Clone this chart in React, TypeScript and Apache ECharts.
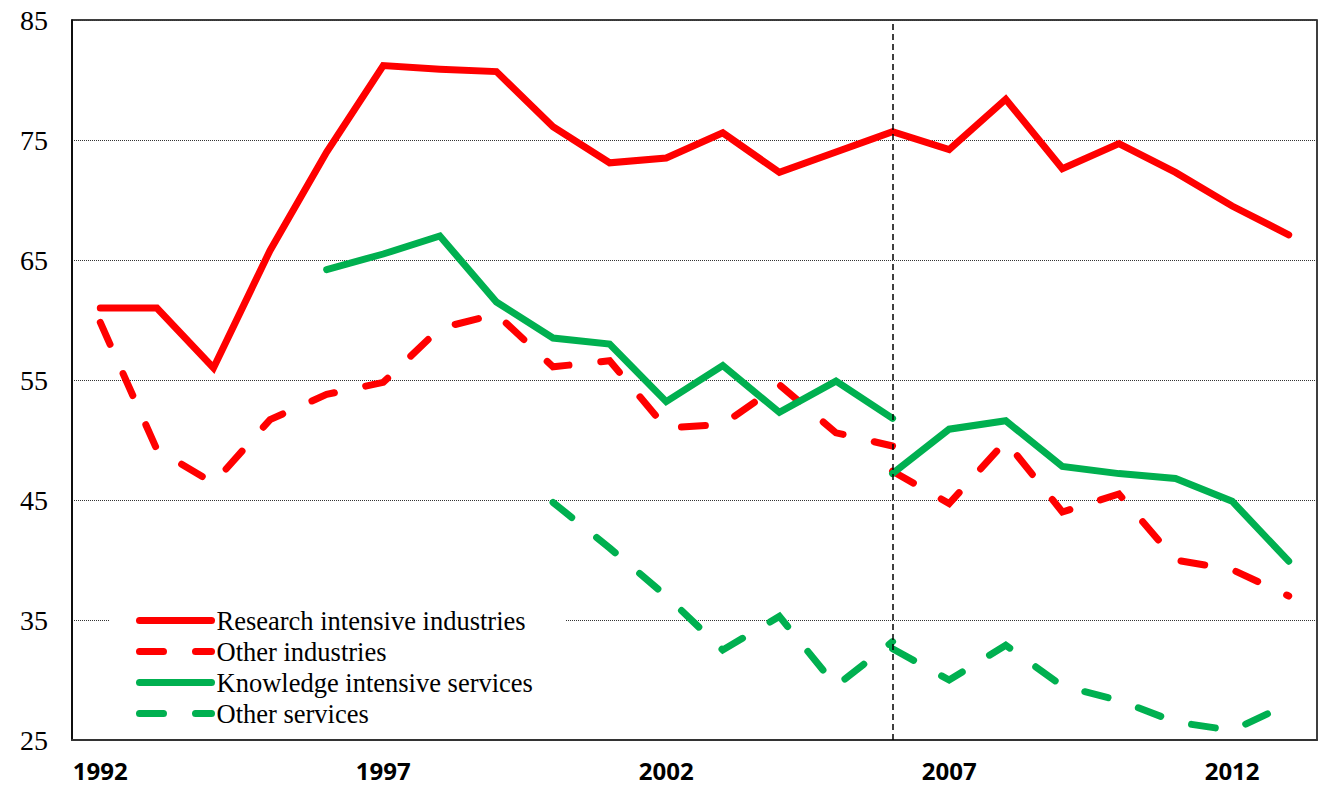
import React, { useEffect, useRef } from "react";
import * as echarts from "echarts";

const years = ["1992","1993","1994","1995","1996","1997","1998","1999","2000","2001","2002","2003","2004","2005","2006","2007","2008","2009","2010","2011","2012","2013"];
const yTicks = [25, 35, 45, 55, 65, 75, 85];

// Research intensive industries
const researchIntensive = [61.0, 61.0, 56.0, 65.8, 74.0, 81.2, 80.9, 80.7, 76.1, 73.1, 73.5, 75.6, 72.3, 74.0, 75.7, 74.2, 78.4, 72.6, 74.7, 72.3, 69.5, 67.1];
// Other industries (break at 2006)
const otherIndustriesA = [59.8, 49.2, 46.4, 51.7, 53.8, 54.8, 59.3, 60.5, 56.1, 56.6, 51.0, 51.3, 54.6, 50.6, 49.5, null, null, null, null, null, null, null];
const otherIndustriesB = [null, null, null, null, null, null, null, null, null, null, null, null, null, null, 47.4, 44.7, 49.9, 44.0, 45.5, 40.0, 39.2, 37.0];
// Knowledge intensive services (break at 2006)
const knowledgeA = [null, null, null, null, 64.2, 65.5, 67.0, 61.5, 58.5, 58.0, 53.2, 56.2, 52.3, 54.9, 51.8, null, null, null, null, null, null, null];
const knowledgeB = [null, null, null, null, null, null, null, null, null, null, null, null, null, null, 47.2, 50.9, 51.6, 47.8, 47.2, 46.8, 44.9, 39.9];
// Other services (break at 2006)
const otherServicesA = [null, null, null, null, null, null, null, null, 44.8, 41.0, 37.0, 32.5, 35.3, 29.5, 33.2, null, null, null, null, null, null, null];
const otherServicesB = [null, null, null, null, null, null, null, null, null, null, null, null, null, null, 32.6, 30.0, 32.9, 29.5, 28.3, 26.5, 25.8, 28.0];

const breakYear = "2006";
const names = ["Research intensive industries", "Other industries", "Knowledge intensive services", "Other services"];

const RED = "#FF0000";
const GREEN = "#00B050";
const DASH = [24, 32];

const toData = (arr: (number | null)[]) => arr.map((v) => (v === null ? "-" : v));

export default function App() {
  const ref = useRef<HTMLDivElement>(null);
  useEffect(() => {
    if (!ref.current) return;
    const chart = echarts.init(ref.current, null, { renderer: "svg" });
    const base = (name: string, data: (number | null)[], color: string, dashed: boolean, z: number) => ({
      type: "line",
      name,
      data: toData(data),
      symbol: "none",
      showSymbol: false,
      connectNulls: false,
      z,
      lineStyle: { color, width: 7, type: dashed ? DASH : "solid", cap: "round", join: "miter" },
      itemStyle: { color },
    });
    const kisA: any = base(names[2], knowledgeA, GREEN, false, 4);
    kisA.markLine = {
      silent: true,
      symbol: "none",
      label: { show: false },
      lineStyle: { color: "#000", width: 1.5, type: [6, 4] },
      data: [{ xAxis: breakYear }],
    };
    const legendColors = [RED, RED, GREEN, GREEN];
    const legendDashed = [false, true, false, true];
    chart.setOption({
      animation: false,
      backgroundColor: "#fff",
      grid: { left: 72, top: 20, right: 5, bottom: 46, show: true, borderColor: "#000", borderWidth: 1.5 },
      legend: {
        orient: "vertical",
        left: 110,
        top: 597,
        itemWidth: 72,
        itemHeight: 14,
        itemGap: 4,
        padding: [10, 33, 6, 26],
        backgroundColor: "#fff",
        itemStyle: { color: "rgba(0,0,0,0)", borderWidth: 0, opacity: 0 },
        data: names.map((n, i) => ({
          name: n,
          lineStyle: { color: legendColors[i], width: 7, cap: "round", type: legendDashed[i] ? DASH : "solid" },
        })),
        textStyle: { fontFamily: "Liberation Serif", fontSize: 26.5, color: "#000", lineHeight: 27 },
      },
      xAxis: {
        type: "category",
        data: years,
        boundaryGap: true,
        axisLine: { show: true, lineStyle: { color: "#333", width: 2 } },
        axisTick: { show: false },
        axisLabel: {
          interval: 4,
          margin: 20,
          lineHeight: 20,
          fontFamily: "Open Sans",
          fontWeight: "bold",
          fontSize: 24,
          color: "#000",
        },
        splitLine: { show: false },
      },
      yAxis: {
        type: "value",
        min: yTicks[0],
        max: yTicks[yTicks.length - 1],
        interval: 10,
        axisLine: { show: true, lineStyle: { color: "#000", width: 1.5 } },
        axisTick: { show: false },
        axisLabel: { margin: 24, fontFamily: "Liberation Serif", fontSize: 28, color: "#000" },
        splitLine: { show: true, lineStyle: { color: "#333", width: 1, type: "dotted" } },
      },
      series: [
        base(names[0], researchIntensive, RED, false, 3),
        base(names[1], otherIndustriesA, RED, true, 3),
        base(names[1], otherIndustriesB, RED, true, 3),
        kisA,
        base(names[2], knowledgeB, GREEN, false, 4),
        base(names[3], otherServicesA, GREEN, true, 4),
        base(names[3], otherServicesB, GREEN, true, 4),
      ],
    });
    return () => chart.dispose();
  }, []);
  return <div ref={ref} style={{ position: "fixed", left: 0, top: 0, width: 1322, height: 786 }} />;
}
